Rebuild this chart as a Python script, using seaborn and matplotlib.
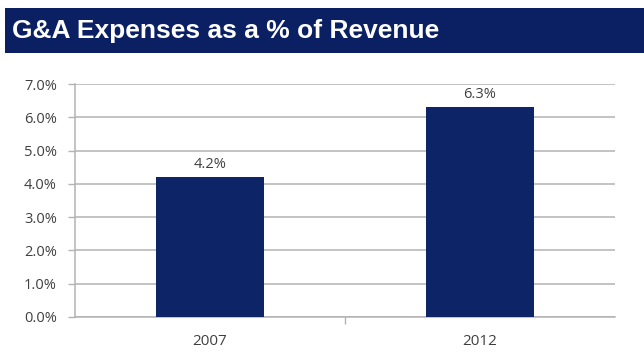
import matplotlib
matplotlib.use("Agg")
import matplotlib.pyplot as plt
import seaborn as sns
import pandas as pd
from matplotlib.ticker import FixedLocator, FuncFormatter
from matplotlib.patches import Rectangle

years = ["2007", "2012"]
ga_pct = [4.2, 6.3]
value_labels = ["4.2%", "6.3%"]
title = "G&A Expenses as a % of Revenue"

navy = "#0a2063"
bar_color = "#0d2466"
grid_gray = "#b3b3b3"
text_gray = "#404040"

sns.set_theme(style="white")
plt.rcParams["font.family"] = ["Open Sans", "DejaVu Sans"]

df = pd.DataFrame({"year": years, "pct": ga_pct})

fig = plt.figure(figsize=(6.44, 3.60), dpi=100)
fig.patch.set_facecolor("white")

# title banner
banner = Rectangle((5 / 644, 1 - 53 / 360), 1 - 5 / 644, 45 / 360,
                   transform=fig.transFigure, facecolor=navy,
                   edgecolor="none", zorder=0)
fig.patches.append(banner)
fig.text(12 / 644, 1 - 31 / 360, title, color="white",
         fontsize=19, fontweight="bold", family="Liberation Sans",
         va="center", ha="left")

ax = fig.add_axes([75 / 644, 43 / 360, 540 / 644, 233 / 360])
sns.barplot(data=df, x="year", y="pct", color=bar_color, width=0.4,
            saturation=1, ax=ax, zorder=3)
for patch in ax.patches:
    patch.set_edgecolor("none")

ax.set_xlim(-0.5, 1.5)
ax.set_ylim(0, 7.0)
ax.yaxis.set_major_locator(FixedLocator([i * 1.0 for i in range(8)]))
ax.yaxis.set_major_formatter(FuncFormatter(lambda v, _: f"{v:.1f}%"))
ax.yaxis.grid(True, color=grid_gray, linewidth=1.1, zorder=0)
ax.set_axisbelow(True)

ax.set_xlabel("")
ax.set_ylabel("")

for side in ["top", "right"]:
    ax.spines[side].set_visible(False)
for side in ["left", "bottom"]:
    ax.spines[side].set_color(grid_gray)
    ax.spines[side].set_linewidth(1.1)

ax.tick_params(axis="y", which="major", direction="out", length=5,
               width=1, color=grid_gray, labelsize=10.5, labelcolor=text_gray,
               left=True, pad=8)
ax.tick_params(axis="x", which="major", length=0, labelsize=11,
               labelcolor=text_gray, pad=12)
ax.xaxis.set_minor_locator(FixedLocator([0.5]))
ax.tick_params(axis="x", which="minor", direction="out", length=5,
               width=1, color=grid_gray, bottom=True)

for patch, lab in zip(ax.patches, value_labels):
    ax.annotate(lab, (patch.get_x() + patch.get_width() / 2, patch.get_height()),
                xytext=(0, 4), textcoords="offset points",
                ha="center", va="bottom", fontsize=10.5, color=text_gray)

fig.savefig("out.png", dpi=100, facecolor="white")
